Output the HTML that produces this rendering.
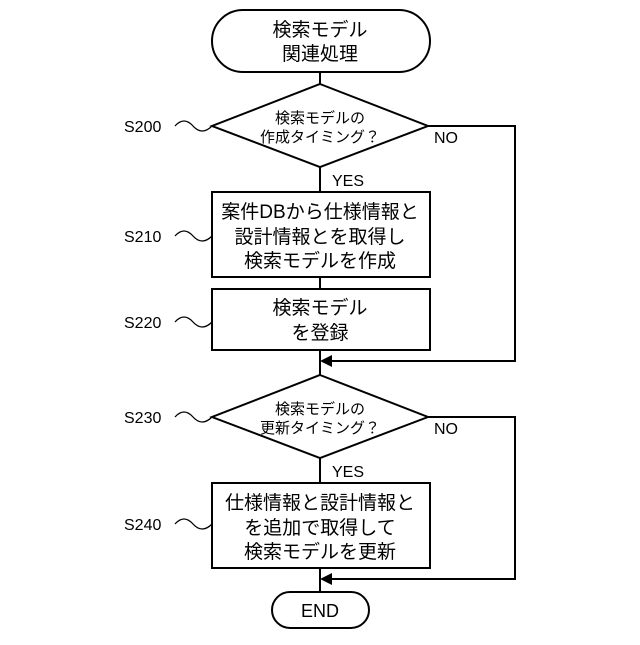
<!DOCTYPE html>
<html><head><meta charset="utf-8"><style>
body{margin:0;background:#fff}
text{font-family:"Liberation Sans","Noto Sans CJK JP",sans-serif;fill:#000}
</style></head><body>
<svg width="640" height="640" viewBox="0 0 640 640" xmlns="http://www.w3.org/2000/svg">
<g fill="none" stroke="#000" stroke-width="2">
<rect x="212" y="10" width="218" height="62" rx="31"/>
<line x1="320" y1="72" x2="320" y2="84"/>
<polygon points="320,84 428,126 320,167 212,126"/>
<line x1="320" y1="167" x2="320" y2="192"/>
<rect x="212" y="192" width="218" height="85"/>
<line x1="320" y1="277" x2="320" y2="289"/>
<rect x="212" y="289" width="218" height="61"/>
<line x1="320" y1="350" x2="320" y2="375"/>
<polyline points="428,126 515,126 515,361 330,361"/>
<polygon points="320,417 428,417 320,458 212,417" style="display:none"/>
<polygon points="320,375 428,417 320,458 212,417"/>
<line x1="320" y1="458" x2="320" y2="483"/>
<rect x="212" y="483" width="218" height="85"/>
<line x1="320" y1="568" x2="320" y2="592"/>
<polyline points="428,417 515,417 515,579 330,579"/>
<rect x="272" y="592" width="97" height="36" rx="18"/>
<path d="M175,126 q9,-10 18,0 t19,0" stroke-width="1.3"/>
<path d="M175,236 q9,-10 18,0 t19,0" stroke-width="1.3"/>
<path d="M175,322 q9,-10 18,0 t19,0" stroke-width="1.3"/>
<path d="M175,417 q9,-10 18,0 t19,0" stroke-width="1.3"/>
<path d="M175,524 q9,-10 18,0 t19,0" stroke-width="1.3"/>
</g>
<polygon points="320,361 332,355 332,367" fill="#000"/>
<polygon points="320,579 332,573 332,585" fill="#000"/>
<g font-size="19" text-anchor="middle">
<text x="320" y="36">検索モデル</text>
<text x="320" y="60">関連処理</text>
<text x="320" y="218">案件DBから仕様情報と</text>
<text x="320" y="243">設計情報とを取得し</text>
<text x="320" y="267">検索モデルを作成</text>
<text x="320" y="314">検索モデル</text>
<text x="320" y="339">を登録</text>
<text x="320" y="509">仕様情報と設計情報と</text>
<text x="320" y="534">を追加で取得して</text>
<text x="320" y="558">検索モデルを更新</text>
<text x="320" y="617" font-size="18">END</text>
</g>
<g font-size="15" text-anchor="middle">
<text x="320" y="123">検索モデルの</text>
<text x="320" y="142">作成タイミング？</text>
<text x="320" y="414">検索モデルの</text>
<text x="320" y="433">更新タイミング？</text>
</g>
<g font-size="16">
<text x="332" y="186">YES</text>
<text x="332" y="477">YES</text>
<text x="434" y="143">NO</text>
<text x="434" y="434">NO</text>
<text x="124" y="132">S200</text>
<text x="124" y="242">S210</text>
<text x="124" y="328">S220</text>
<text x="124" y="423">S230</text>
<text x="124" y="530">S240</text>
</g>
</svg>
</body></html>
